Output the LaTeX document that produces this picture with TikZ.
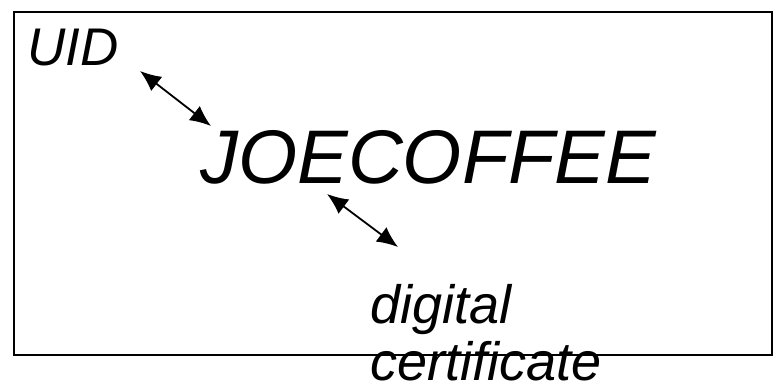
\documentclass[tikz,border=0pt]{standalone}
\usepackage{fontspec}
\setmainfont{Liberation Sans}
\usetikzlibrary{arrows.meta}
\begin{document}
\begin{tikzpicture}[x=1pt,y=-1pt,
  label text/.style={inner sep=0pt,anchor=base west,font=\itshape\fontsize{53}{58}\selectfont,align=left},
  link/.style={line width=1.8pt,{Latex[length=21pt,width=18pt]}-{Latex[length=21pt,width=18pt]}}]
  \useasboundingbox (0,0) rectangle (775,383);
  \draw[line width=1.4pt] (14,12) rectangle (772,355);
  \node[label text] (uid) at (27,65) {UID};
  \node[label text,font=\itshape\fontsize{76}{80}\selectfont] (name) at (200,183) {JOECOFFEE};
  % the base anchor of a two-line node sits on its last line
  \node[label text,font=\itshape\fontsize{54}{57}\selectfont] (cert) at (370,380) {digital\\certificate};
  \coordinate (a1) at (140,71);
  \coordinate (a2) at (211,126);
  \coordinate (b1) at (327,194);
  \coordinate (b2) at (398,247);
  \draw[link] (a1) -- (a2);
  \draw[link] (b1) -- (b2);
\end{tikzpicture}
\end{document}
